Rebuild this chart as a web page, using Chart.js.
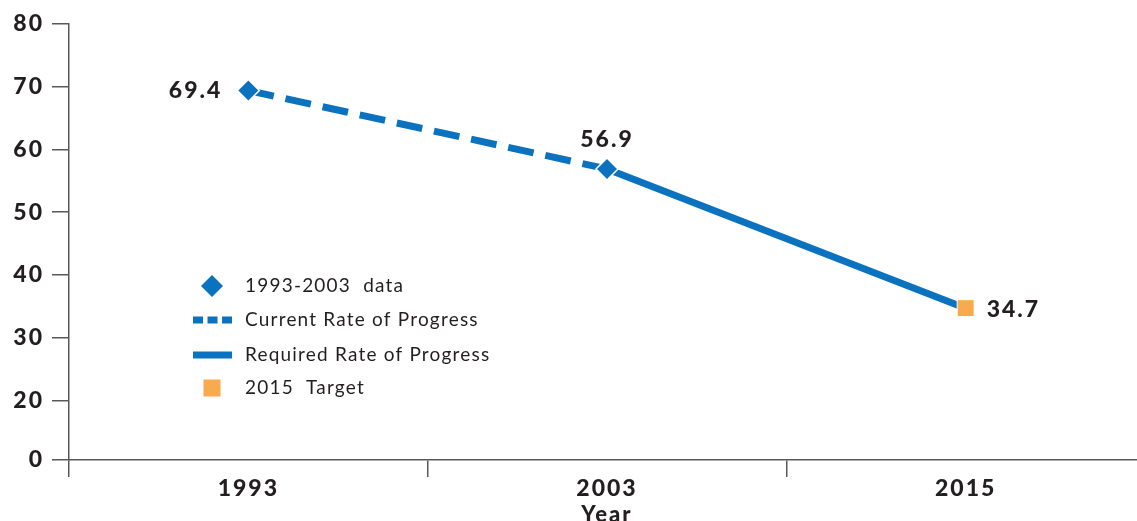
<!DOCTYPE html>
<html>
<head>
<meta charset="utf-8">
<script src="https://cdn.jsdelivr.net/npm/chart.js@4.4.0/dist/chart.umd.min.js"></script>
<style>
  html, body { margin: 0; padding: 0; background: #fff; overflow: hidden; }
  #c { display: block; }
</style>
</head>
<body>
<canvas id="c" width="1158" height="521"></canvas>
<script>
// Categories and series
const years = ['1993', '2003', '2015'];
const currentRate = [69.4, 56.9, null];   // dashed: observed trend
const requiredRate = [null, 56.9, 34.7];  // solid: path to target
const observed = [69.4, 56.9, null];      // diamond markers
const target = [null, null, 34.7];        // 2015 target marker

// Y axis ticks (broken axis: bottom tick is shown as 0)
const yTickValues = [10.5, 20, 30, 40, 50, 60, 70, 80];
const yTickLabels = ['0', '20', '30', '40', '50', '60', '70', '80'];

const legendLabels = ['1993-2003  data', 'Current Rate of Progress', 'Required Rate of Progress', '2015  Target'];

const BLUE = '#0a72be';
const ORANGE = '#f9aa4f';
const INK = '#231f20';
const AXIS = '#58595b';
const FONT = 'Lato, "Open Sans", sans-serif';

// where each value label sits relative to its marker
const labelPlacement = {
  2: [{ align: 'right', dx: -26, dy: 0 }, { align: 'center', dx: 0, dy: -29 }],
  3: [null, null, { align: 'left', dx: 21, dy: 1 }]
};

const spacing = {
  id: 'spacing',
  beforeInit(chart) { chart.ctx.letterSpacing = '2px'; },
  beforeDraw(chart) { chart.ctx.letterSpacing = '2px'; }
};

const valueLabels = {
  id: 'valueLabels',
  afterDatasetsDraw(chart) {
    const ctx = chart.ctx;
    ctx.save();
    ctx.letterSpacing = '2px';
    ctx.font = '900 23px ' + FONT;
    ctx.fillStyle = INK;
    ctx.textBaseline = 'middle';
    Object.keys(labelPlacement).forEach(k => {
      const di = Number(k);
      const meta = chart.getDatasetMeta(di);
      const data = chart.data.datasets[di].data;
      meta.data.forEach((pt, i) => {
        const p = labelPlacement[k][i];
        if (!p || data[i] == null) return;
        ctx.textAlign = p.align;
        ctx.fillText(data[i].toFixed(1), pt.x + p.dx, pt.y + p.dy);
      });
    });
    ctx.restore();
  }
};

const insetLegend = {
  id: 'insetLegend',
  afterDraw(chart) {
    const ctx = chart.ctx;
    const x0 = 193, sx = 212, tx = 245;
    const rows = [286, 320, 355, 388];
    ctx.save();
    // diamond
    ctx.fillStyle = BLUE;
    ctx.beginPath();
    ctx.moveTo(sx - 11, rows[0]); ctx.lineTo(sx, rows[0] - 11);
    ctx.lineTo(sx + 11, rows[0]); ctx.lineTo(sx, rows[0] + 11);
    ctx.closePath(); ctx.fill();
    // dashed line
    ctx.strokeStyle = BLUE; ctx.lineWidth = 7; ctx.lineCap = 'butt';
    ctx.setLineDash([10, 4.5]);
    ctx.beginPath(); ctx.moveTo(x0, rows[1]); ctx.lineTo(x0 + 39, rows[1]); ctx.stroke();
    // solid line
    ctx.setLineDash([]);
    ctx.beginPath(); ctx.moveTo(x0, rows[2]); ctx.lineTo(x0 + 39, rows[2]); ctx.stroke();
    // square
    ctx.fillStyle = ORANGE;
    ctx.fillRect(sx - 8.5, rows[3] - 8.5, 17, 17);
    // labels
    ctx.letterSpacing = '1.2px';
    ctx.font = '19px ' + FONT;
    ctx.fillStyle = INK;
    ctx.textAlign = 'left';
    ctx.textBaseline = 'middle';
    legendLabels.forEach((t, i) => ctx.fillText(t, tx, rows[i]));
    ctx.restore();
  }
};

new Chart(document.getElementById('c'), {
  type: 'line',
  data: {
    labels: years,
    datasets: [
      { label: legendLabels[1], data: currentRate, borderColor: BLUE, borderWidth: 7,
        borderDash: [26, 12], pointRadius: 0, fill: false, spanGaps: false, order: 3 },
      { label: legendLabels[2], data: requiredRate, borderColor: BLUE, borderWidth: 7,
        pointRadius: 0, fill: false, spanGaps: false, order: 2 },
      { label: legendLabels[0], data: observed, showLine: false, pointStyle: 'rectRot',
        pointRadius: 11, pointBackgroundColor: BLUE, pointBorderColor: '#ffffff',
        pointBorderWidth: 1.5, order: 1 },
      { label: legendLabels[3], data: target, showLine: false, pointStyle: 'rect',
        pointRadius: 12, pointBackgroundColor: ORANGE, pointBorderColor: '#ffffff',
        pointBorderWidth: 1, order: 0 }
    ]
  },
  options: {
    responsive: false,
    animation: false,
    devicePixelRatio: 1,
    layout: { padding: { top: 24, left: 0, right: 0, bottom: 0 } },
    plugins: { legend: { display: false }, tooltip: { enabled: false } },
    scales: {
      x: {
        type: 'category',
        offset: true,
        grid: { offset: true, drawOnChartArea: false, drawTicks: true, tickLength: 17, color: AXIS, lineWidth: 1.5 },
        border: { color: AXIS, width: 1.5 },
        ticks: { font: { family: FONT, size: 23, weight: '900' }, color: INK, padding: -2, maxRotation: 0 },
        title: { display: true, text: 'Year', color: INK, font: { family: FONT, size: 22, weight: '900' },
                 padding: { top: 0, bottom: -7 } },
        afterFit(scale) { scale.height = 61; }
      },
      y: {
        min: 10.5,
        max: 80,
        afterBuildTicks(scale) { scale.ticks = yTickValues.map(v => ({ value: v })); },
        grid: { drawOnChartArea: false, drawTicks: true, tickLength: 17, color: AXIS, lineWidth: 1.5 },
        border: { color: AXIS, width: 1.5 },
        ticks: {
          font: { family: FONT, size: 23, weight: '900' }, color: INK, padding: 8,
          callback(value) { const i = yTickValues.indexOf(value); return i >= 0 ? yTickLabels[i] : ''; }
        },
        afterFit(scale) { scale.width = 69; }
      }
    }
  },
  plugins: [spacing, valueLabels, insetLegend]
});
</script>
</body>
</html>
